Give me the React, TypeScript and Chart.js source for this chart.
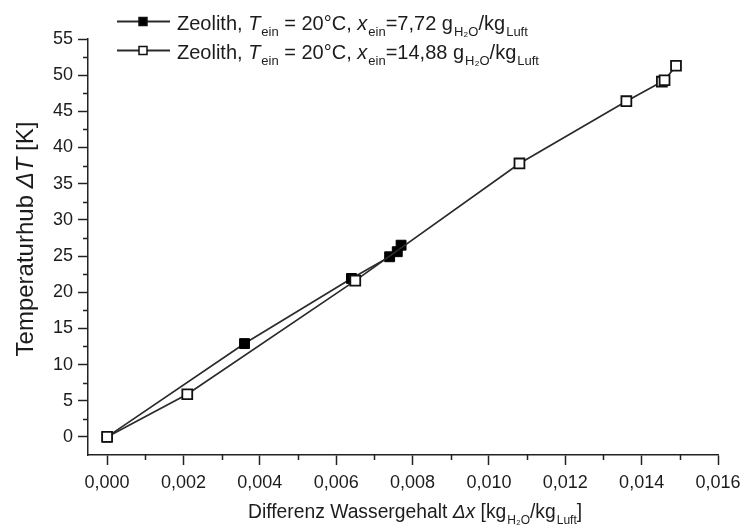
import React, { useEffect, useRef } from 'react';
import { Chart, registerables } from 'chart.js';

Chart.register(...registerables);

// ---- data ----
const filledDx = [0, 0.0036, 0.0064, 0.0074, 0.0076, 0.0077];
const filledDT = [0, 12.9, 21.9, 24.9, 25.6, 26.5];
const openDx = [0, 0.0021, 0.0065, 0.0108, 0.0136, 0.01453, 0.0146, 0.0149];
const openDT = [0, 5.9, 21.6, 37.8, 46.4, 49.1, 49.3, 51.3];

const xTickLabels = ['0,000', '0,002', '0,004', '0,006', '0,008', '0,010', '0,012', '0,014', '0,016'];
const yTickLabels = ['0', '5', '10', '15', '20', '25', '30', '35', '40', '45', '50', '55'];
const xMinorTicks = [0.001, 0.003, 0.005, 0.007, 0.009, 0.011, 0.013, 0.015];
const yMinorTicks = [2.5, 7.5, 12.5, 17.5, 22.5, 27.5, 32.5, 37.5, 42.5, 47.5, 52.5];

type Seg = { t: string; s: 'n' | 'i' | 'sub' };
const legendRow1: Seg[] = [
  { t: 'Zeolith, ', s: 'n' }, { t: 'T', s: 'i' }, { t: 'ein', s: 'sub' },
  { t: ' = 20°C, ', s: 'n' }, { t: 'x', s: 'i' }, { t: 'ein', s: 'sub' },
  { t: '=7,72 g', s: 'n' }, { t: 'H₂O', s: 'sub' }, { t: '/kg', s: 'n' }, { t: 'Luft', s: 'sub' },
];
const legendRow2: Seg[] = [
  { t: 'Zeolith, ', s: 'n' }, { t: 'T', s: 'i' }, { t: 'ein', s: 'sub' },
  { t: ' = 20°C, ', s: 'n' }, { t: 'x', s: 'i' }, { t: 'ein', s: 'sub' },
  { t: '=14,88 g', s: 'n' }, { t: 'H₂O', s: 'sub' }, { t: '/kg', s: 'n' }, { t: 'Luft', s: 'sub' },
];
const xTitle: Seg[] = [
  { t: 'Differenz Wassergehalt ', s: 'n' }, { t: 'Δx', s: 'i' }, { t: ' [kg', s: 'n' },
  { t: 'H₂O', s: 'sub' }, { t: '/kg', s: 'n' }, { t: 'Luft', s: 'sub' }, { t: ']', s: 'n' },
];
const yTitle: Seg[] = [
  { t: 'Temperaturhub ', s: 'n' }, { t: 'ΔT', s: 'i' }, { t: ' [K]', s: 'n' },
];

const FONT = "'Liberation Sans', Arial, Helvetica, sans-serif";
const TXT = '#1c1c1c';
const AX = '#222222';
const LINE = '#2b2b2b';

function setFont(ctx: CanvasRenderingContext2D, s: Seg['s'], size: number, subSize: number) {
  if (s === 'i') ctx.font = `italic ${size}px ${FONT}`;
  else if (s === 'sub') ctx.font = `${subSize}px ${FONT}`;
  else ctx.font = `${size}px ${FONT}`;
}

function measureRich(ctx: CanvasRenderingContext2D, segs: Seg[], size: number, subSize: number) {
  let w = 0;
  for (const g of segs) {
    setFont(ctx, g.s, size, subSize);
    w += ctx.measureText(g.t).width + (g.s === 'sub' ? 1 : 0);
  }
  return w;
}

function drawRich(ctx: CanvasRenderingContext2D, segs: Seg[], x: number, y: number, size: number, subSize: number, subOff: number) {
  let cx = x;
  ctx.textBaseline = 'alphabetic';
  ctx.textAlign = 'left';
  for (const g of segs) {
    setFont(ctx, g.s, size, subSize);
    if (g.s === 'sub') {
      ctx.fillText(g.t, cx + 1, y + subOff);
      cx += ctx.measureText(g.t).width + 1;
    } else {
      ctx.fillText(g.t, cx, y);
      cx += ctx.measureText(g.t).width;
    }
  }
}

const decor = {
  id: 'decor',
  afterDraw(chart: any) {
    const ctx: CanvasRenderingContext2D = chart.ctx;
    const xs = chart.scales.x;
    const ys = chart.scales.y;
    const area = chart.chartArea;
    ctx.save();
    // minor ticks
    ctx.strokeStyle = AX;
    ctx.lineWidth = 1.5;
    ctx.beginPath();
    for (const v of xMinorTicks) {
      const px = Math.round(xs.getPixelForValue(v)) + 0.5;
      ctx.moveTo(px, area.bottom);
      ctx.lineTo(px, area.bottom + 5);
    }
    for (const v of yMinorTicks) {
      const py = Math.round(ys.getPixelForValue(v)) + 0.5;
      ctx.moveTo(area.left, py);
      ctx.lineTo(area.left - 5, py);
    }
    ctx.stroke();

    ctx.fillStyle = TXT;
    // x title
    drawRich(ctx, xTitle, 248, 518, 19.3, 12, 6);
    // y title (rotated)
    ctx.save();
    const yw = measureRich(ctx, yTitle, 24, 14);
    ctx.translate(0, 239);
    ctx.rotate(-Math.PI / 2);
    drawRich(ctx, yTitle, -yw / 2, 33, 24, 14, 6);
    ctx.restore();

    // legend
    const rows = [
      { segs: legendRow1, ly: 21.5, by: 29.5, filled: true },
      { segs: legendRow2, ly: 50.5, by: 58.5, filled: false },
    ];
    for (const r of rows) {
      ctx.strokeStyle = LINE;
      ctx.lineWidth = 2;
      ctx.beginPath();
      ctx.moveTo(117, r.ly);
      ctx.lineTo(170, r.ly);
      ctx.stroke();
      ctx.fillStyle = r.filled ? '#000' : '#fff';
      ctx.fillRect(139, r.ly - 4, 8, 8);
      ctx.strokeStyle = '#111';
      ctx.lineWidth = 1.5;
      ctx.strokeRect(139, r.ly - 4, 8, 8);
      ctx.fillStyle = TXT;
      drawRich(ctx, r.segs, 177, r.by, 20, 13, 6);
    }
    ctx.restore();
  },
};

export default function App() {
  const ref = useRef<HTMLCanvasElement>(null);
  useEffect(() => {
    document.body.style.margin = '0';
    const canvas = ref.current!;
    const chart = new Chart(canvas, {
      type: 'scatter',
      data: {
        datasets: [
          {
            label: 'Zeolith, Tein = 20°C, xein=7,72 gH2O/kgLuft',
            data: filledDx.map((x, i) => ({ x, y: filledDT[i] })),
            showLine: true,
            borderColor: LINE,
            borderWidth: 1.7,
            tension: 0,
            pointStyle: 'rect',
            pointRadius: 7,
            pointBackgroundColor: '#000',
            pointBorderColor: '#000',
            pointBorderWidth: 1,
            order: 1,
          },
          {
            label: 'Zeolith, Tein = 20°C, xein=14,88 gH2O/kgLuft',
            data: openDx.map((x, i) => ({ x, y: openDT[i] })),
            showLine: true,
            borderColor: LINE,
            borderWidth: 1.7,
            tension: 0,
            pointStyle: 'rect',
            pointRadius: 7,
            pointBackgroundColor: '#fff',
            pointBorderColor: '#111',
            pointBorderWidth: 1.8,
            order: 0,
          },
        ],
      },
      options: {
        responsive: false,
        animation: false,
        layout: { padding: { left: 0, right: 24, top: 39, bottom: 0 } },
        plugins: { legend: { display: false }, tooltip: { enabled: false } },
        scales: {
          x: {
            type: 'linear',
            min: -0.0005,
            max: 0.016,
            afterFit: (s: any) => { s.height = 76; s.paddingLeft = 0; s.paddingRight = 0; },
            grid: { drawOnChartArea: false, drawTicks: true, tickLength: 10, color: AX, tickWidth: 1.5 },
            border: { display: true, color: AX, width: 1.5 },
            title: { display: false },
            ticks: {
              stepSize: 0.002,
              includeBounds: false,
              autoSkip: false,
              maxRotation: 0,
              padding: 7,
              color: TXT,
              font: { family: FONT, size: 18 },
              callback: (_v: any, i: number) => xTickLabels[i],
            },
          },
          y: {
            type: 'linear',
            min: -2.5,
            max: 55,
            afterFit: (s: any) => { s.width = 88; s.paddingTop = 0; s.paddingBottom = 0; },
            grid: { drawOnChartArea: false, drawTicks: true, tickLength: 10, color: AX, tickWidth: 1.5 },
            border: { display: true, color: AX, width: 1.5 },
            title: { display: false },
            ticks: {
              stepSize: 5,
              includeBounds: false,
              autoSkip: false,
              padding: 5,
              color: TXT,
              font: { family: FONT, size: 18 },
              callback: (_v: any, i: number) => yTickLabels[i],
            },
          },
        },
      },
      plugins: [decor],
    } as any);
    return () => chart.destroy();
  }, []);
  return (
    <div style={{ width: 742, height: 531, background: '#fff' }}>
      <canvas ref={ref} width={742} height={531} style={{ display: 'block' }} />
    </div>
  );
}
